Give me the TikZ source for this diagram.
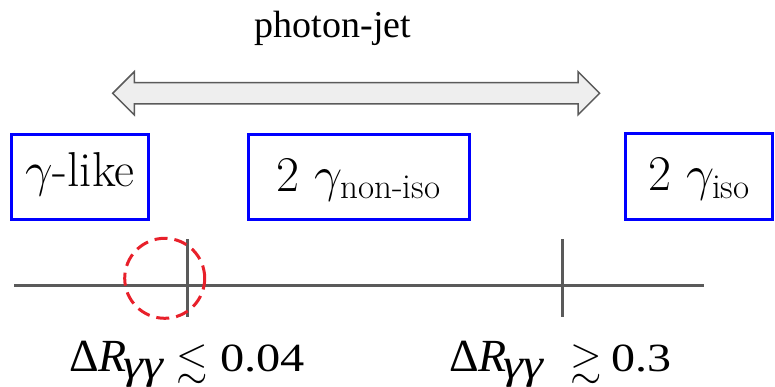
\RequirePackage{fix-cm}
\documentclass[tikz,border=0pt]{standalone}
\usepackage{amsmath,amssymb}
\usepackage{graphicx}
\usepackage{fontspec}
\newfontfamily\tnr{Liberation Serif}
\definecolor{axisgray}{HTML}{5A5A5A}
\definecolor{arrowfill}{HTML}{EEEEEE}
\definecolor{boxblue}{HTML}{0000FF}
\definecolor{circred}{HTML}{E8202A}
\newcommand{\gsub}{\raisebox{-7pt}{\scalebox{1.2}[1]{\tnr\fontsize{42}{42}\selectfont\itshape γγ}}}
\newcommand{\relsym}[1]{\raisebox{-2.5pt}{\scalebox{1.35}{\fontsize{30}{30}\selectfont$#1$}}}
\newcommand{\dR}{{\tnr\fontsize{46}{48}\selectfont Δ\textit{R}}}
\newcommand{\numtxt}[2]{{\tnr\fontsize{40}{40}\selectfont\scalebox{#1}[1]{#2}}}
\begin{document}
\begin{tikzpicture}[x=1pt,y=-1pt,
  catbox/.style={draw=boxblue,line width=3pt,inner sep=0pt,rectangle},
  axisline/.style={draw=axisgray,line width=3pt},
  bandarrow/.style={draw=axisgray,fill=arrowfill,line width=1.5pt,line join=miter},
  cutlabel/.style={anchor=base west,inner sep=0pt},
  zoomcircle/.style={draw=circred,line width=3pt,dash pattern=on 13pt off 7pt}
]
\useasboundingbox (0,0) rectangle (775,387);

% title
\node[anchor=base,inner sep=0pt] (title) at (333,37.3) {\tnr\fontsize{38}{42}\selectfont photon-jet};

% double arrow
\draw[bandarrow] (112.7,93.3) -- (134.3,71.7) -- (134.3,82.7) -- (578,82.7) -- (578,71.7)
  -- (599.6,93.3) -- (578,114.9) -- (578,103.9) -- (134.3,103.9) -- (134.3,114.9) -- cycle;

% boxes
\node[catbox,minimum width=136.6pt,minimum height=84.7pt,text height=30pt,text depth=10pt,
  font=\fontsize{49}{52}\selectfont] (like) at (80,176.7) {$\gamma$-like};
\node[catbox,minimum width=221pt,minimum height=84pt,text height=36pt,text depth=7pt,
  font=\fontsize{50}{54}\selectfont] (noniso) at (358.8,177) {$2\ \gamma_{\text{non-iso}}$};
\node[catbox,minimum width=146.7pt,minimum height=85pt,text height=36pt,text depth=7pt,
  font=\fontsize{50}{54}\selectfont] (iso) at (699.3,176.5) {$2\ \gamma_{\text{iso}}$};

% axis and ticks
\coordinate (axL) at (14,285.7);
\coordinate (axR) at (704,285.7);
\coordinate (t1a) at (187.7,239.3);
\coordinate (t1b) at (187.7,317.3);
\coordinate (t2a) at (562.7,239.3);
\coordinate (t2b) at (562.7,317.3);
\draw[axisline] (axL) -- (axR);
\draw[axisline] (t1a) -- (t1b);
\draw[axisline] (t2a) -- (t2b);

% dashed circle
\node[zoomcircle,circle,minimum size=80pt,inner sep=0pt] (zoom) at (164.7,278.3) {};

% labels
\node[cutlabel] (lab1) at (69,371.7) {\makebox[54pt][l]{\dR}\makebox[53.7pt][l]{\gsub}\makebox[43.3pt][l]{\relsym{\lesssim}}\numtxt{1.21}{0.04}};
\node[cutlabel] (lab2) at (449,371.7) {\makebox[54pt][l]{\dR}\makebox[67pt][l]{\gsub}\makebox[41.7pt][l]{\relsym{\gtrsim}}\numtxt{1.2}{0.3}};
\end{tikzpicture}
\end{document}
